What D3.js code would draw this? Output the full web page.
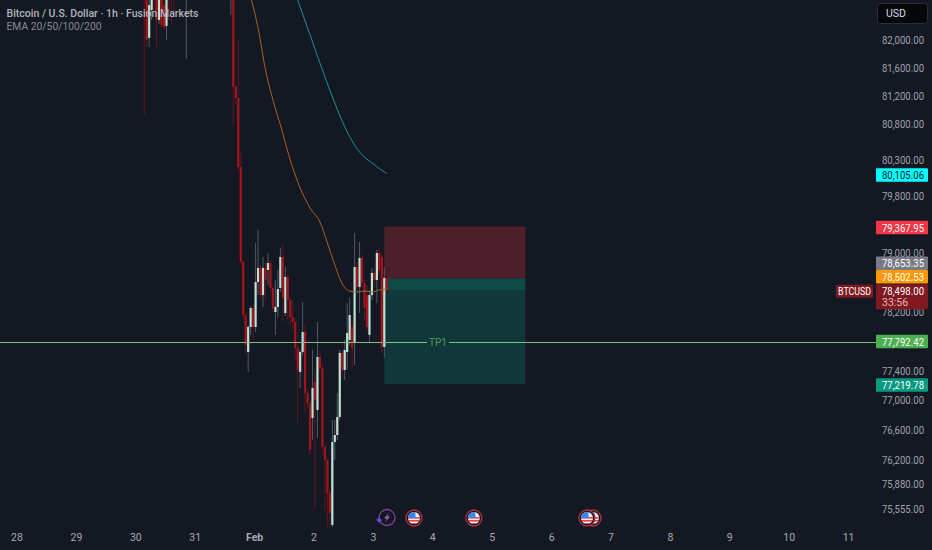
<!DOCTYPE html>
<html>
<head>
<meta charset="utf-8">
<style>
  html, body { margin: 0; padding: 0; background: #131823; }
  svg { display: block; font-family: Roboto, sans-serif; }
</style>
</head>
<body>
<script src="https://d3js.org/d3.v7.min.js"></script>
<div id="chart"></div>
<script>
// hours counted from 28 Jan 00:00
var candleHours = [51,52,53,54,55,56,57,58,59,60,61,62,63,68,
  86,87,88,89,90,91,92,93,94,95,96,97,98,99,100,101,102,103,104,105,106,107,108,109,110,
  111,112,113,114,115,116,117,118,119,120,121,122,123,124,125,126,127,128,129,130,
  131,132,133,134,135,136,137,138,139,140,141,142,143,144,145,146,147,148,149];
var opens = [82854,82710,82023,82423,82854,82566,82280,82710,82494,82194,82854,82854,82854,82998,
  82638,82854,81325,81168,80198,78880,78154,77652,77991,78249,77991,78605,78798,78427,78798,78770,78866,78523,78195,78263,78523,78949,78181,78674,78358,
  78127,78059,77706,77382,77652,77923,77099,76965,76764,77248,76871,77585,77436,76375,76203,75766,75345,76442,76536,76777,
  77639,77409,77652,77815,77991,77774,78811,78537,78935,78592,78427,77883,78427,78729,78633,79004,78949,77720,78660];
var highs = [82998,82854,82854,82998,82998,82710,82854,82854,82566,82854,82998,82998,82998,83214,
  82998,82998,81353,81994,80407,78908,78181,78018,78276,78290,79142,79322,78839,78949,78880,79004,78908,78550,78633,78770,79073,79114,78811,78701,78399,
  78358,78113,77747,77679,78331,78046,77140,77005,77679,77409,78059,77679,77477,76402,76229,75805,76737,76737,77099,77679,
  77679,77815,78317,78386,78086,79280,78880,79156,78976,78633,78564,78495,78798,78839,79045,79073,78976,78811,78798];
var lows = [80929,81894,81894,82280,82423,81894,82223,82166,82137,81994,82280,82223,82352,81722,
  82352,80773,81070,80156,78839,78086,77612,77382,77883,77815,77923,78427,78386,78263,78358,78564,78468,78195,77883,78127,78468,78059,78141,78086,78018,
  77951,77544,76697,77167,77612,76844,76898,76269,76469,75568,76496,77382,76269,75542,75319,75319,75319,76203,76469,76737,
  77302,77275,77409,77747,77409,77477,78468,78181,78523,78086,77923,77774,78358,78523,78317,78701,77652,77571,78427];
var closes = [82638,81994,82494,82854,82566,82280,82710,82208,82180,82710,82638,82638,82638,83142,
  82854,81325,81168,80198,78880,78154,77747,77991,78249,77991,78605,78798,78427,78798,78633,78866,78523,78249,78263,78509,78949,78386,78674,78358,78127,
  78059,77706,77409,77652,77923,77099,76965,76335,77167,77005,77585,77436,76375,76203,75766,75503,76442,76536,76777,77639,
  77409,77679,77910,78154,77706,78811,78537,78935,78592,78249,77991,78427,78729,78633,79004,78770,77720,78660,78498];

var ema50Hours = [94,97,100,103,106,110,114,118,122,125,128,131,134,137,140,143,146,149];
var ema50Values = [82609,82166,81566,81140,80788,80295,79905,79626,79432,79142,78839,78578,78482,78468,78482,78468,78496,78509];
var ema100Hours = [113,118,123,128,133,138,143,149];
var ema100Values = [82566,82066,81566,81098,80690,80407,80254,80105];

var priceTicks = [82000,81600,81200,80800,80300,79800,79000,78200,77400,77000,76600,76200,75880,75555];
var dayHours = [0,24,48,72,96,120,144,168,192,216,240,264,288,312,336];
var dayLabels = ["28","29","30","31","Feb","2","3","4","5","6","7","8","9","10","11"];

var stopPrice = 79367.95, entryPrice = 78653.35, lastPrice = 78498.00, emaTag = 78502.53;
var tp1Price = 77792.42, targetPrice = 77219.78, emaTealTag = 80105.06;
var posStartHour = 148, posEndHour = 205, tp1TextHour = 169.7;
var flagHours = [232.3, 229.9, 184.2, 160];
var flashHour = 149.1;

var width = 932, height = 550;
var axisLeft = 876;

var svg = d3.select("#chart").append("svg")
    .attr("width", width)
    .attr("height", height);

svg.append("rect").attr("width", width).attr("height", height).attr("fill", "#131823");

var defs = svg.append("defs");
defs.append("clipPath").attr("id", "plot")
  .append("rect").attr("width", axisLeft).attr("height", 527);
defs.append("clipPath").attr("id", "flagclip")
  .append("circle").attr("r", 6);

var x = d3.scaleLinear().domain([0, 336]).range([18, 849.6]);
var y = d3.scaleLog().domain([82000, 75555]).range([39.5, 509]);

// x axis
var xAxis = svg.append("g")
    .attr("transform", "translate(-1.5,527)")
    .call(d3.axisBottom(x).tickValues(dayHours).tickSize(0)
      .tickFormat(function(d, i) { return dayLabels[i]; }));
xAxis.select(".domain").remove();
xAxis.selectAll("text")
    .attr("fill", "#a6a9b2")
    .attr("dy", 0)
    .attr("y", 14)
    .style("font-size", "10.5px")
    .style("font-family", "Roboto, sans-serif")
    .style("font-weight", function(d, i) { return dayLabels[i] == "Feb" ? 700 : 400; });

// y axis
var fmt = d3.format(",.2f");
var yAxis = svg.append("g")
    .attr("transform", "translate(882,0)")
    .call(d3.axisRight(y).tickValues(priceTicks).tickSize(0).tickPadding(0).tickFormat(fmt));
yAxis.select(".domain").remove();
yAxis.selectAll("text")
    .attr("fill", "#a0a3ac")
    .attr("textLength", 42)
    .attr("lengthAdjust", "spacingAndGlyphs")
    .style("font-size", "11px")
    .style("font-family", "Roboto, sans-serif");

var plot = svg.append("g").attr("clip-path", "url(#plot)");

// position boxes
var boxX = x(posStartHour), boxW = x(posEndHour) - x(posStartHour);
plot.append("rect").attr("x", boxX).attr("width", boxW)
    .attr("y", y(stopPrice)).attr("height", y(entryPrice) - y(stopPrice))
    .attr("fill", "#f23645").attr("opacity", 0.25);
plot.append("rect").attr("x", boxX).attr("width", boxW)
    .attr("y", y(entryPrice)).attr("height", y(targetPrice) - y(entryPrice))
    .attr("fill", "#089981").attr("opacity", 0.24);
plot.append("rect").attr("x", boxX).attr("width", boxW)
    .attr("y", y(entryPrice)).attr("height", y(lastPrice) - y(entryPrice))
    .attr("fill", "#089981").attr("opacity", 0.2);

// candles, wicks first
var candles = candleHours.map(function(h, i) {
  return {h: h, o: opens[i], hi: highs[i], lo: lows[i], c: closes[i]};
});
var upColor = "#bfe0d4", downColor = "#a8131b";

plot.selectAll("line.wick").data(candles).enter().append("line")
    .attr("class", "wick")
    .attr("x1", function(d) { return x(d.h); })
    .attr("x2", function(d) { return x(d.h); })
    .attr("y1", function(d) { return y(d.hi); })
    .attr("y2", function(d) { return y(d.lo); })
    .attr("stroke", function(d) { return d.c >= d.o ? "#4d5b67" : "#5f161e"; })
    .attr("stroke-width", 1);

plot.selectAll("rect.body").data(candles).enter().append("rect")
    .attr("class", "body")
    .attr("x", function(d) { return x(d.h) - 1.1; })
    .attr("width", 2.2)
    .attr("y", function(d) { return y(Math.max(d.o, d.c)); })
    .attr("height", function(d) { return Math.max(1, Math.abs(y(d.o) - y(d.c))); })
    .attr("fill", function(d) { return d.c >= d.o ? upColor : downColor; });

// EMAs
var emaLine = d3.line()
    .x(function(d) { return x(d[0]); })
    .y(function(d) { return y(d[1]); })
    .curve(d3.curveMonotoneX);
plot.append("path")
    .attr("d", emaLine(d3.zip(ema50Hours, ema50Values)))
    .attr("fill", "none").attr("stroke", "#a8622a").attr("stroke-width", 1);
plot.append("path")
    .attr("d", emaLine(d3.zip(ema100Hours, ema100Values)))
    .attr("fill", "none").attr("stroke", "#1c8f8f").attr("stroke-width", 1);

// TP1 line with a gap for its text
var tpY = Math.round(y(tp1Price)) + 0.5, tpX = x(tp1TextHour);
[[0, tpX - 11], [tpX + 11, axisLeft]].forEach(function(seg) {
  svg.append("line")
      .attr("x1", seg[0]).attr("x2", seg[1])
      .attr("y1", tpY).attr("y2", tpY)
      .attr("stroke", "#7cc080").attr("stroke-width", 1);
});
svg.append("text")
    .attr("x", tpX).attr("y", tpY + 3.5)
    .attr("text-anchor", "middle")
    .attr("fill", "#4a9e62")
    .style("font-size", "10px")
    .text("TP1");

// price tags
function tag(price, tagY, bg, fg) {
  svg.append("rect").attr("x", 876).attr("y", tagY - 6.75)
      .attr("width", 52).attr("height", 13.5).attr("rx", 1).attr("fill", bg);
  svg.append("text").attr("x", 882).attr("y", tagY + 3.9)
      .attr("fill", fg)
      .attr("textLength", 42).attr("lengthAdjust", "spacingAndGlyphs")
      .style("font-size", "11px")
      .text(fmt(price));
}
var lastY = y(lastPrice) + 1;
tag(emaTealTag, y(emaTealTag) + 1.5, "#00ffff", "#131823");
tag(stopPrice, y(stopPrice) + 1, "#f23645", "#ffffff");
tag(entryPrice, lastY - 27.5, "#787b86", "#ffffff");
tag(emaTag, lastY - 14, "#ff9800", "#ffffff");
tag(tp1Price, y(tp1Price), "#4caf50", "#ffffff");
tag(targetPrice, y(targetPrice) + 1, "#089981", "#ffffff");

svg.append("rect").attr("x", 876).attr("y", lastY - 6.5)
    .attr("width", 52).attr("height", 25).attr("rx", 1).attr("fill", "#801922");
svg.append("text").attr("x", 882).attr("y", lastY + 3.9)
    .attr("fill", "#ffffff")
    .attr("textLength", 42).attr("lengthAdjust", "spacingAndGlyphs")
    .style("font-size", "11px").text(fmt(lastPrice));
svg.append("text").attr("x", 882).attr("y", lastY + 15)
    .attr("fill", "#e3b6ba").style("font-size", "10.5px").text("33:56");
svg.append("rect").attr("x", 836).attr("y", lastY - 6)
    .attr("width", 37).attr("height", 13).attr("rx", 1).attr("fill", "#801922");
svg.append("text").attr("x", 854.5).attr("y", lastY + 3.8)
    .attr("text-anchor", "middle").attr("fill", "#ffffff")
    .attr("textLength", 33).attr("lengthAdjust", "spacingAndGlyphs")
    .style("font-size", "10.5px").text("BTCUSD");

// currency box
svg.append("rect").attr("x", 877.5).attr("y", 3.5)
    .attr("width", 50).attr("height", 20).attr("rx", 3)
    .attr("fill", "#05070b").attr("stroke", "#2a2e39");
svg.append("text").attr("x", 886).attr("y", 17)
    .attr("fill", "#d8dae0").style("font-size", "10.5px").text("USD");

// header
svg.append("text").attr("x", 6.5).attr("y", 17)
    .attr("fill", "#b2b5be")
    .attr("textLength", 192).attr("lengthAdjust", "spacingAndGlyphs")
    .style("font-size", "11px").style("font-weight", 500)
    .text("Bitcoin / U.S. Dollar · 1h · Fusion Markets");
svg.append("text").attr("x", 6.5).attr("y", 30)
    .attr("fill", "#868993")
    .attr("textLength", 95).attr("lengthAdjust", "spacingAndGlyphs")
    .style("font-size", "11px")
    .text("EMA 20/50/100/200");

// event icons
var flags = svg.selectAll("g.flag").data(flagHours).enter().append("g")
    .attr("class", "flag")
    .attr("transform", function(d) { return "translate(" + x(d) + ",518)"; });
flags.append("circle").attr("r", 8).attr("fill", "#131823")
    .attr("stroke", "#b5333e").attr("stroke-width", 1.3);
var flagInner = flags.append("g").attr("clip-path", "url(#flagclip)");
flagInner.append("rect").attr("x", -6).attr("y", -6).attr("width", 12).attr("height", 12).attr("fill", "#f4f4f6");
[-1, 2, 5].forEach(function(s) {
  flagInner.append("rect").attr("x", -6).attr("y", s).attr("width", 12).attr("height", 1.6).attr("fill", "#e8434d");
});
flagInner.append("rect").attr("x", -6).attr("y", -6).attr("width", 7.5).attr("height", 6).attr("fill", "#3f83e6");

var flash = svg.append("g").attr("transform", "translate(" + x(flashHour) + ",517.5)");
flash.append("circle").attr("r", 8).attr("fill", "none")
    .attr("stroke", "#84409f").attr("stroke-width", 1.3);
flash.append("path").attr("d", "M2,-5 L-3,1 L0,1 L-2,5 L3,-1 L0,-1 Z").attr("fill", "#a45fc4");
flash.append("path").attr("d", "M-8,-1 L-7,1.5 L-4.5,2.5 L-7,3.5 L-8,6 L-9,3.5 L-11.5,2.5 L-9,1.5 Z").attr("fill", "#6d4df2");
</script>
</body>
</html>
